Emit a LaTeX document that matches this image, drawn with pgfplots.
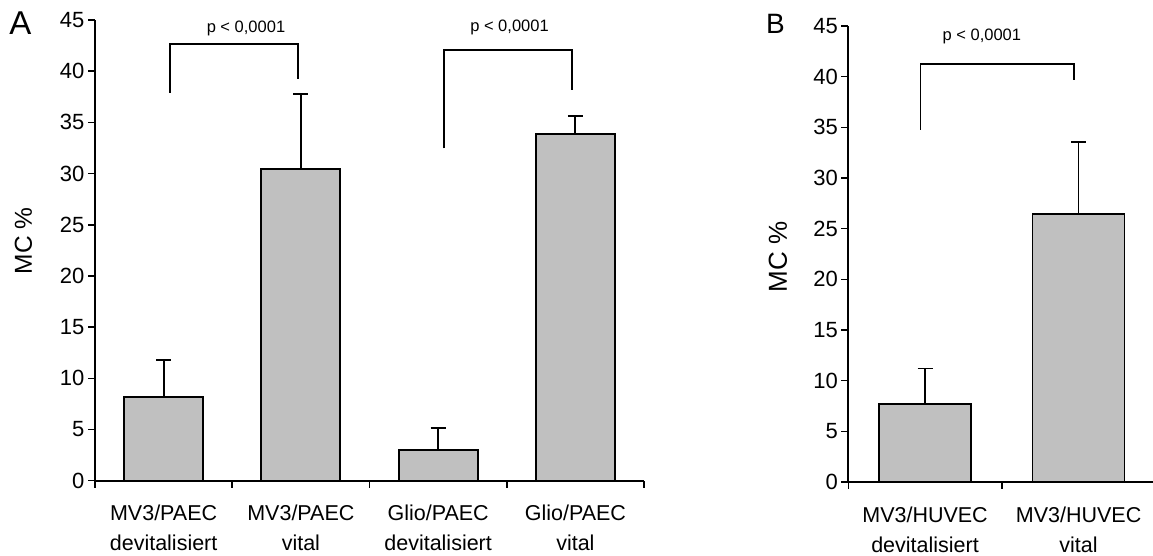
\documentclass[border=0pt]{standalone}
\usepackage{fontspec}
\setmainfont{Liberation Sans}
\usepackage{pgfplots}
\pgfplotsset{compat=1.18}
\definecolor{barg}{RGB}{192,192,192}
\begin{document}
\begin{tikzpicture}[x=1pt,y=1pt]
\useasboundingbox (0pt,0pt) rectangle (1153pt,556pt);
\pgfplotsset{
  mystyle/.style={
    scale only axis,
    clip=false,
    axis x line*=bottom, axis y line*=left,
    axis line style={line width=1.8pt,-},
    ymin=0, ymax=45, ytick={0,5,...,45},
    xmin=-0.5,
    xtick={0,1,2,3},
    major x tick style={draw=none},
    tick align=outside,
    major tick length=7pt, minor tick length=7pt,
    every tick/.append style={black, line width=1.6pt},
    /pgf/number format/assume math mode=true,
    yticklabel style={font=\fontsize{22}{26}\selectfont},
    xticklabel style={align=center, font=\fontsize{21.5}{30}\selectfont, yshift=-14pt},
  },
  mybar/.style={
    ybar, bar shift=0pt, fill=barg, draw=black, line width=1.8pt,
    error bars/.cd, y dir=plus, y explicit,
    error bar style={line width=1.8pt, black},
    error mark options={rotate=90, mark size=7.5pt, line width=1.8pt, black},
    /pgfplots/.cd,
  },
}
% Panel A
\begin{axis}[mystyle,
  at={(95pt,75.3pt)}, anchor=south west,
  width=549pt, height=460.7pt,
  xmax=3.5,
  minor xtick={-0.5,0.5,1.5,2.5,3.5},
  xticklabels={{MV3/PAEC\\devitalisiert},{MV3/PAEC\\vital},{Glio/PAEC\\devitalisiert},{Glio/PAEC\\vital}},
]
\addplot[bar width=79pt, mybar] coordinates {
  (0,8.2) +- (0,3.59)
  (1,30.45) +- (0,7.29)
  (2,2.97) +- (0,2.18)
  (3,33.83) +- (0,1.76)
};
\draw[line width=1.8pt] (axis cs:0.047,37.9) -- (axis cs:0.047,42.68) -- (axis cs:0.979,42.68) -- (axis cs:0.979,39.24);
\node[font=\fontsize{16.5}{20}\selectfont] at (axis cs:0.6,44.2) {p < 0,0001};
\draw[line width=1.8pt] (axis cs:2.043,32.47) -- (axis cs:2.043,42.08) -- (axis cs:2.975,42.08) -- (axis cs:2.975,38.16);
\node[font=\fontsize{16.5}{20}\selectfont] at (axis cs:2.52,44.26) {p < 0,0001};
\end{axis}
% Panel B
\begin{axis}[mystyle,
  at={(848.3pt,74pt)}, anchor=south west,
  width=307pt, height=456pt,
  xmax=1.5,
  minor xtick={-0.5,0.5,1.5},
  xticklabels={{MV3/HUVEC\\devitalisiert},{MV3/HUVEC\\vital}},
]
\addplot[bar width=92pt, mybar] coordinates {
  (0,7.7) +- (0,3.5)
  (1,26.45) +- (0,7.1)
};
\draw[line width=1.8pt] (axis cs:-0.03,34.74) -- (axis cs:-0.03,41.25) -- (axis cs:0.97,41.25) -- (axis cs:0.97,39.64);
\node[font=\fontsize{16.5}{20}\selectfont] at (axis cs:0.37,43.95) {p < 0,0001};
\end{axis}
\node[font=\fontsize{33}{38}\selectfont] at (20.3pt,533pt) {A};
\node[font=\fontsize{28}{34}\selectfont] at (775.5pt,532.4pt) {B};
\node[rotate=90, font=\fontsize{24.5}{28}\selectfont] at (23.5pt,315.2pt) {MC \%};
\node[rotate=90, font=\fontsize{26}{30}\selectfont] at (778pt,299.3pt) {MC \%};
\end{tikzpicture}
\end{document}
